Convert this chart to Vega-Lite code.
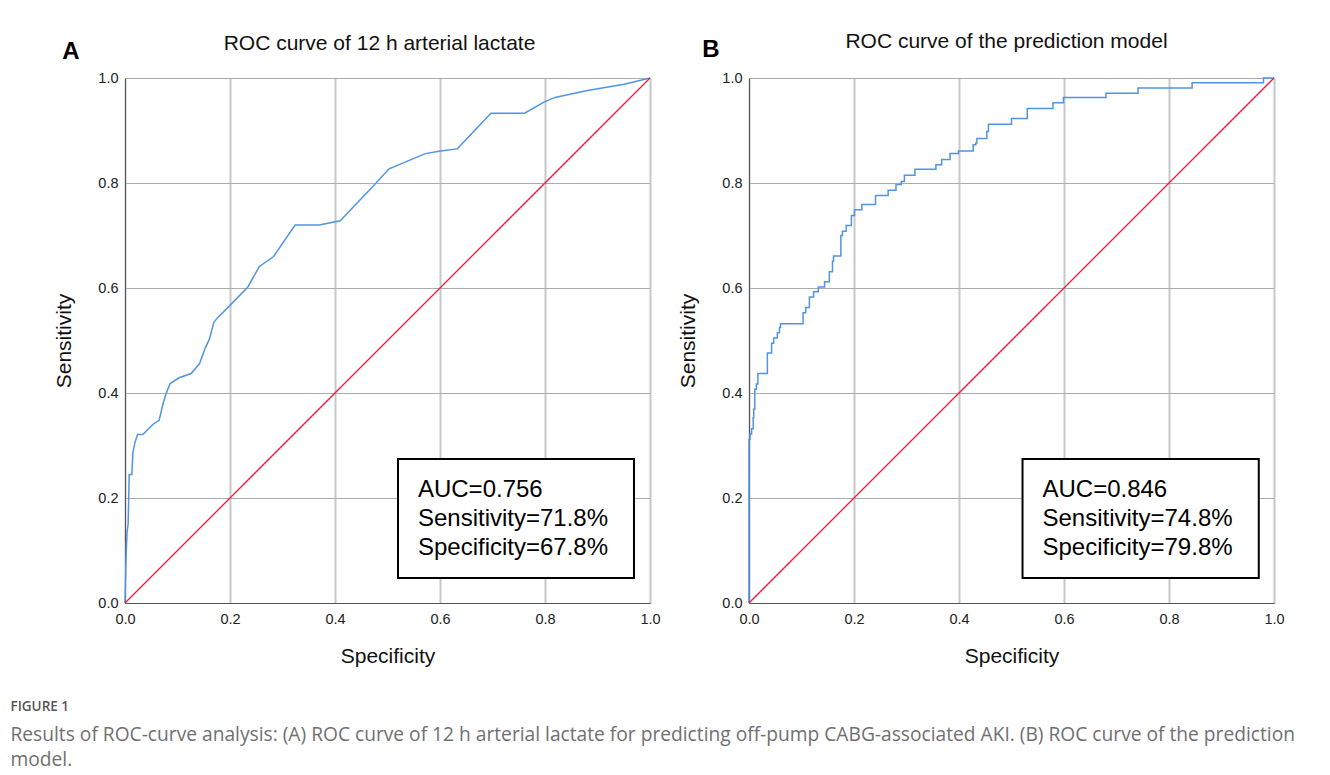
{
  "$schema": "https://vega.github.io/schema/vega-lite/v6.json",
  "background": "white",
  "padding": {"left": 10, "top": 31, "right": 5, "bottom": 5},
  "bounds": "flush",
  "spacing": 99,
  "title": {
    "text": "FIGURE 1",
    "subtitle": [
      "Results of ROC-curve analysis: (A) ROC curve of 12 h arterial lactate for predicting off-pump CABG-associated AKI. (B) ROC curve of the prediction",
      "model."
    ],
    "orient": "bottom",
    "anchor": "start",
    "frame": "bounds",
    "dx": -42.5,
    "offset": 34,
    "font": "Open Sans",
    "fontSize": 13.5,
    "fontWeight": 600,
    "color": "#555555",
    "subtitleFont": "Open Sans",
    "subtitleFontSize": 19.2,
    "subtitleColor": "#707070",
    "subtitleLineHeight": 25,
    "subtitlePadding": 12
  },
  "config": {
    "view": {"stroke": null},
    "axis": {
      "labelFont": "Liberation Sans",
      "labelFontSize": 14.5,
      "labelColor": "#222222",
      "titleFont": "Liberation Sans",
      "titleFontSize": 21,
      "titleFontWeight": "normal",
      "titleColor": "#111111",
      "ticks": false,
      "domainColor": "#555555",
      "domainWidth": 1,
      "labelFlush": false,
      "labelOverlap": false
    },
    "axisX": {
      "labelPadding": 9,
      "gridColor": "#c8c8c8",
      "gridWidth": 2,
      "titleX": 262.5,
      "titleY": 53,
      "titleBaseline": "middle",
      "titleAnchor": "middle"
    },
    "axisY": {
      "labelPadding": 7,
      "gridColor": "#ababab",
      "gridWidth": 1,
      "titleX": -61,
      "titleY": 262.5,
      "titleBaseline": "middle"
    },
    "title": {
      "font": "Liberation Sans",
      "fontSize": 21,
      "fontWeight": "normal",
      "color": "#111111",
      "offset": -14,
      "baseline": "alphabetic"
    }
  },
  "datasets": {
    "rocA": [
      {"specificity": 0, "sensitivity": 0},
      {"specificity": 0.002, "sensitivity": 0.088},
      {"specificity": 0.004, "sensitivity": 0.136},
      {"specificity": 0.006, "sensitivity": 0.150},
      {"specificity": 0.008, "sensitivity": 0.245},
      {"specificity": 0.013, "sensitivity": 0.245},
      {"specificity": 0.015, "sensitivity": 0.286},
      {"specificity": 0.019, "sensitivity": 0.306},
      {"specificity": 0.024, "sensitivity": 0.321},
      {"specificity": 0.034, "sensitivity": 0.321},
      {"specificity": 0.043, "sensitivity": 0.330},
      {"specificity": 0.053, "sensitivity": 0.340},
      {"specificity": 0.065, "sensitivity": 0.348},
      {"specificity": 0.072, "sensitivity": 0.378},
      {"specificity": 0.078, "sensitivity": 0.398},
      {"specificity": 0.086, "sensitivity": 0.418},
      {"specificity": 0.103, "sensitivity": 0.429},
      {"specificity": 0.126, "sensitivity": 0.437},
      {"specificity": 0.142, "sensitivity": 0.456},
      {"specificity": 0.153, "sensitivity": 0.486},
      {"specificity": 0.161, "sensitivity": 0.503},
      {"specificity": 0.169, "sensitivity": 0.534},
      {"specificity": 0.177, "sensitivity": 0.544},
      {"specificity": 0.199, "sensitivity": 0.566},
      {"specificity": 0.234, "sensitivity": 0.602},
      {"specificity": 0.256, "sensitivity": 0.641},
      {"specificity": 0.283, "sensitivity": 0.660},
      {"specificity": 0.324, "sensitivity": 0.720},
      {"specificity": 0.370, "sensitivity": 0.720},
      {"specificity": 0.410, "sensitivity": 0.728},
      {"specificity": 0.443, "sensitivity": 0.763},
      {"specificity": 0.468, "sensitivity": 0.789},
      {"specificity": 0.503, "sensitivity": 0.827},
      {"specificity": 0.572, "sensitivity": 0.856},
      {"specificity": 0.601, "sensitivity": 0.861},
      {"specificity": 0.633, "sensitivity": 0.865},
      {"specificity": 0.697, "sensitivity": 0.933},
      {"specificity": 0.761, "sensitivity": 0.933},
      {"specificity": 0.798, "sensitivity": 0.954},
      {"specificity": 0.819, "sensitivity": 0.963},
      {"specificity": 0.881, "sensitivity": 0.976},
      {"specificity": 0.951, "sensitivity": 0.988},
      {"specificity": 1.0, "sensitivity": 1.0}
    ],
    "rocB": [
      {"specificity": 0, "sensitivity": 0},
      {"specificity": 0, "sensitivity": 0.312},
      {"specificity": 0.002, "sensitivity": 0.322},
      {"specificity": 0.005, "sensitivity": 0.332},
      {"specificity": 0.008, "sensitivity": 0.353},
      {"specificity": 0.009, "sensitivity": 0.369},
      {"specificity": 0.011, "sensitivity": 0.407},
      {"specificity": 0.014, "sensitivity": 0.417},
      {"specificity": 0.017, "sensitivity": 0.437},
      {"specificity": 0.035, "sensitivity": 0.476},
      {"specificity": 0.043, "sensitivity": 0.495},
      {"specificity": 0.047, "sensitivity": 0.505},
      {"specificity": 0.054, "sensitivity": 0.515},
      {"specificity": 0.058, "sensitivity": 0.525},
      {"specificity": 0.060, "sensitivity": 0.532},
      {"specificity": 0.103, "sensitivity": 0.553},
      {"specificity": 0.108, "sensitivity": 0.563},
      {"specificity": 0.115, "sensitivity": 0.583},
      {"specificity": 0.123, "sensitivity": 0.593},
      {"specificity": 0.132, "sensitivity": 0.602},
      {"specificity": 0.144, "sensitivity": 0.612},
      {"specificity": 0.153, "sensitivity": 0.631},
      {"specificity": 0.159, "sensitivity": 0.651},
      {"specificity": 0.161, "sensitivity": 0.661},
      {"specificity": 0.175, "sensitivity": 0.700},
      {"specificity": 0.178, "sensitivity": 0.708},
      {"specificity": 0.185, "sensitivity": 0.719},
      {"specificity": 0.195, "sensitivity": 0.738},
      {"specificity": 0.201, "sensitivity": 0.749},
      {"specificity": 0.215, "sensitivity": 0.759},
      {"specificity": 0.241, "sensitivity": 0.776},
      {"specificity": 0.265, "sensitivity": 0.786},
      {"specificity": 0.280, "sensitivity": 0.797},
      {"specificity": 0.290, "sensitivity": 0.803},
      {"specificity": 0.296, "sensitivity": 0.815},
      {"specificity": 0.316, "sensitivity": 0.826},
      {"specificity": 0.356, "sensitivity": 0.835},
      {"specificity": 0.367, "sensitivity": 0.845},
      {"specificity": 0.383, "sensitivity": 0.856},
      {"specificity": 0.399, "sensitivity": 0.861},
      {"specificity": 0.427, "sensitivity": 0.873},
      {"specificity": 0.432, "sensitivity": 0.876},
      {"specificity": 0.434, "sensitivity": 0.885},
      {"specificity": 0.453, "sensitivity": 0.898},
      {"specificity": 0.456, "sensitivity": 0.912},
      {"specificity": 0.500, "sensitivity": 0.923},
      {"specificity": 0.530, "sensitivity": 0.942},
      {"specificity": 0.579, "sensitivity": 0.953},
      {"specificity": 0.599, "sensitivity": 0.963},
      {"specificity": 0.680, "sensitivity": 0.971},
      {"specificity": 0.741, "sensitivity": 0.981},
      {"specificity": 0.844, "sensitivity": 0.991},
      {"specificity": 0.980, "sensitivity": 1.0},
      {"specificity": 1.0, "sensitivity": 1.0}
    ],
    "diag": [
      {"specificity": 0, "sensitivity": 0},
      {"specificity": 1, "sensitivity": 1}
    ]
  },
  "hconcat": [
    {
      "width": 525,
      "height": 525,
      "title": {"text": "ROC curve of 12 h arterial lactate", "dx": -8},
      "layer": [
        {
          "data": {"name": "rocA"},
          "mark": {"type": "line", "color": "#5294e2", "strokeWidth": 1.5},
          "encoding": {
            "x": {"field": "specificity", "type": "quantitative", "scale": {"domain": [0, 1]}, "title": "Specificity", "axis": {"values": [0, 0.2, 0.4, 0.6, 0.8, 1.0], "format": ".1f"}},
            "y": {"field": "sensitivity", "type": "quantitative", "scale": {"domain": [0, 1]}, "title": "Sensitivity", "axis": {"values": [0, 0.2, 0.4, 0.6, 0.8, 1.0], "format": ".1f"}},
            "order": {"value": null}
          }
        },
        {
          "data": {"name": "diag"},
          "mark": {"type": "line", "color": "#e41e3f", "strokeWidth": 1.3},
          "encoding": {
            "x": {"field": "specificity", "type": "quantitative"},
            "y": {"field": "sensitivity", "type": "quantitative"}
          }
        },
        {
          "data": {"values": [{}]},
          "mark": {"type": "rect", "fill": "white", "stroke": "black", "strokeWidth": 2},
          "encoding": {
            "x": {"datum": 0.52}, "x2": {"datum": 0.9695},
            "y": {"datum": 0.2743}, "y2": {"datum": 0.0476}
          }
        },
        {
          "data": {"values": [{}]},
          "mark": {"type": "text", "align": "left", "baseline": "middle", "font": "Liberation Sans", "fontSize": 24, "lineHeight": 29, "color": "black"},
          "encoding": {
            "x": {"datum": 0.558}, "y": {"datum": 0.215},
            "text": {"value": ["AUC=0.756", "Sensitivity=71.8%", "Specificity=67.8%"]}
          }
        },
        {
          "data": {"values": [{}]},
          "mark": {"type": "text", "align": "center", "baseline": "middle", "font": "Liberation Sans", "fontSize": 24, "fontWeight": "bold", "color": "black"},
          "encoding": {
            "x": {"datum": -0.103}, "y": {"datum": 1.0495},
            "text": {"value": "A"}
          }
        }
      ]
    },
    {
      "width": 525,
      "height": 525,
      "title": {"text": "ROC curve of the prediction model", "dx": -5},
      "layer": [
        {
          "data": {"name": "rocB"},
          "mark": {"type": "line", "color": "#5294e2", "strokeWidth": 1.5, "interpolate": "step-after"},
          "encoding": {
            "x": {"field": "specificity", "type": "quantitative", "scale": {"domain": [0, 1]}, "title": "Specificity", "axis": {"values": [0, 0.2, 0.4, 0.6, 0.8, 1.0], "format": ".1f"}},
            "y": {"field": "sensitivity", "type": "quantitative", "scale": {"domain": [0, 1]}, "title": "Sensitivity", "axis": {"values": [0, 0.2, 0.4, 0.6, 0.8, 1.0], "format": ".1f"}},
            "order": {"value": null}
          }
        },
        {
          "data": {"name": "diag"},
          "mark": {"type": "line", "color": "#e41e3f", "strokeWidth": 1.3},
          "encoding": {
            "x": {"field": "specificity", "type": "quantitative"},
            "y": {"field": "sensitivity", "type": "quantitative"}
          }
        },
        {
          "data": {"values": [{}]},
          "mark": {"type": "rect", "fill": "white", "stroke": "black", "strokeWidth": 2},
          "encoding": {
            "x": {"datum": 0.521}, "x2": {"datum": 0.971},
            "y": {"datum": 0.2743}, "y2": {"datum": 0.0476}
          }
        },
        {
          "data": {"values": [{}]},
          "mark": {"type": "text", "align": "left", "baseline": "middle", "font": "Liberation Sans", "fontSize": 24, "lineHeight": 29, "color": "black"},
          "encoding": {
            "x": {"datum": 0.559}, "y": {"datum": 0.215},
            "text": {"value": ["AUC=0.846", "Sensitivity=74.8%", "Specificity=79.8%"]}
          }
        },
        {
          "data": {"values": [{}]},
          "mark": {"type": "text", "align": "center", "baseline": "middle", "font": "Liberation Sans", "fontSize": 24, "fontWeight": "bold", "color": "black"},
          "encoding": {
            "x": {"datum": -0.0725}, "y": {"datum": 1.053},
            "text": {"value": "B"}
          }
        }
      ]
    }
  ]
}
